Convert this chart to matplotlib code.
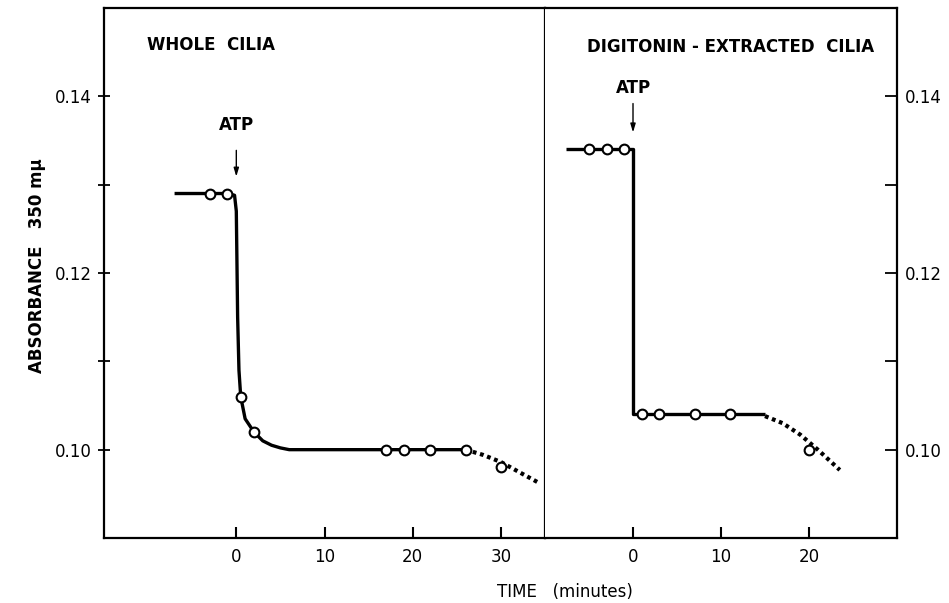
import matplotlib.pyplot as plt
import numpy as np

plt.rcParams['font.family'] = ['DejaVu Sans']

# whole cilia (left panel)
whole_pts_t = [-3, -1, 0.5, 2, 17, 19, 22, 26, 30]
whole_pts_a = [0.129, 0.129, 0.106, 0.102, 0.100, 0.100, 0.100, 0.100, 0.098]
whole_fit_t = [-7, -1, -0.2, 0.0, 0.15, 0.3, 0.5, 1, 2, 3, 4, 5, 6, 26]
whole_fit_a = [0.129, 0.129, 0.1288, 0.127, 0.115, 0.109, 0.106, 0.1035, 0.102, 0.101, 0.1005, 0.1002, 0.100, 0.100]
whole_dot_t = [26, 28, 30, 32, 34.2]
whole_dot_a = [0.100, 0.0994, 0.0986, 0.0975, 0.0963]

# digitonin-extracted cilia (right panel)
digi_pts_t = [-5, -3, -1, 1, 3, 7, 11, 20]
digi_pts_a = [0.134, 0.134, 0.134, 0.104, 0.104, 0.104, 0.104, 0.100]
digi_fit_t = [-7.6, 0, 0, 15]
digi_fit_a = [0.134, 0.134, 0.104, 0.104]
digi_dot_t = [15, 17, 19, 21, 23.5]
digi_dot_a = [0.1038, 0.1030, 0.1017, 0.1000, 0.0977]

yticks_major = [0.10, 0.12, 0.14]
yticks_minor = [0.11, 0.13]

fig = plt.figure(figsize=(9.49, 6.03), dpi=100)
axL = fig.add_axes([0.1096, 0.1078, 0.5743 - 0.1096, 0.9867 - 0.1078])
axR = fig.add_axes([0.5743, 0.1078, 0.9452 - 0.5743, 0.9867 - 0.1078])

fs = 12
for ax, fit_t, fit_a, dot_t, dot_a, pt_t, pt_a in [
        (axL, whole_fit_t, whole_fit_a, whole_dot_t, whole_dot_a, whole_pts_t, whole_pts_a),
        (axR, digi_fit_t, digi_fit_a, digi_dot_t, digi_dot_a, digi_pts_t, digi_pts_a)]:
    ax.plot(fit_t, fit_a, color='black', lw=2.4, solid_joinstyle='round', solid_capstyle='butt')
    ax.plot(dot_t, dot_a, color='black', lw=3, linestyle=(0, (0.9, 0.9)))
    ax.plot(pt_t, pt_a, 'o', ms=7, mfc='white', mec='black', mew=1.5, zorder=5)
    ax.set_ylim(0.09, 0.15)
    ax.set_yticks(yticks_major)
    ax.set_yticks(yticks_minor, minor=True)
    for s in ax.spines.values():
        s.set_linewidth(1.6)
    ax.tick_params(axis='x', direction='in', length=8, width=1.5, labelsize=fs, pad=7)
    ax.tick_params(axis='y', which='both', length=9, width=1.3, labelsize=fs)

axL.set_xlim(-15, 35)
axL.set_xticks([0, 10, 20, 30])
axL.tick_params(axis='y', which='both', direction='inout', pad=4)
axL.set_yticklabels(['0.10', '0.12', '0.14'])

axR.set_xlim(-10, 30)
axR.set_xticks([0, 10, 20])
axR.yaxis.tick_right()
axR.tick_params(axis='y', which='both', direction='in', left=False, pad=6)
axR.set_yticklabels(['0.10', '0.12', '0.14'])
axR.spines['left'].set_visible(False)

axL.text(-10.1, 0.1458, 'WHOLE  CILIA', fontsize=fs, fontweight='bold', va='center', ha='left')
axR.text(-5.2, 0.1456, 'DIGITONIN - EXTRACTED  CILIA', fontsize=fs, fontweight='bold', va='center', ha='left')

arrow = dict(arrowstyle='-|>,head_length=0.5,head_width=0.15', color='black', lw=1)
axL.text(0, 0.1367, 'ATP', fontsize=fs, fontweight='bold', ha='center', va='center')
axL.annotate('', xy=(0, 0.1306), xytext=(0, 0.1342), arrowprops=arrow)
axR.text(0, 0.1409, 'ATP', fontsize=fs, fontweight='bold', ha='center', va='center')
axR.annotate('', xy=(0, 0.1356), xytext=(0, 0.1395), arrowprops=arrow)

fig.text(0.039, 0.56, 'ABSORBANCE   350 mμ', rotation=90, fontsize=fs, fontweight='bold',
         ha='center', va='center')
fig.text(0.595, 0.018, 'TIME   (minutes)', fontsize=fs, ha='center', va='center')

fig.savefig('out.png', dpi=100)
